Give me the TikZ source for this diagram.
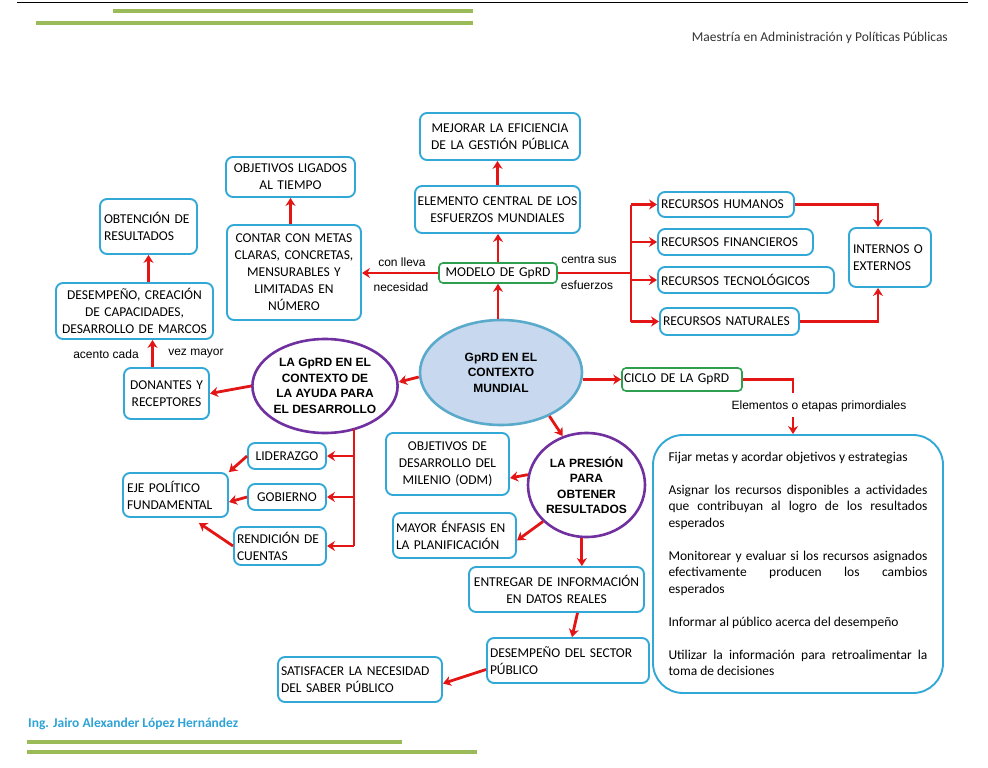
\documentclass[tikz,border=0pt]{standalone}
\usepackage{fontspec}
\setmainfont{Carlito}
\newfontfamily\arialf{Liberation Sans}
\usetikzlibrary{shapes.geometric,arrows.meta,calc}
\definecolor{boxblue}{HTML}{31A8D5}
\definecolor{arrred}{HTML}{E31515}
\definecolor{purp}{HTML}{7030A0}
\definecolor{gbox}{HTML}{2E9E4F}
\definecolor{barg}{HTML}{9BBB59}
\definecolor{ellfill}{HTML}{C8D9EF}
\definecolor{ellline}{HTML}{5AAACB}
\definecolor{footblue}{HTML}{2EA3D6}
\begin{document}
\begin{tikzpicture}[x=1pt,y=-1pt,
  box/.style={draw=boxblue, line width=1.9pt, rounded corners=7pt, inner sep=0pt, align=center, fill=white,
    font=\fontsize{13.5}{17}\selectfont},
  lbox/.style={box, align=left},
  gbx/.style={draw=gbox, line width=1.6pt, rounded corners=4pt, inner sep=0pt, align=left, fill=white,
    font=\fontsize{13.5}{17}\selectfont},
  pell/.style={ellipse, draw=purp, line width=2.6pt, inner sep=0pt, align=center, fill=white,
    font=\arialf\bfseries\fontsize{12}{15.5}\selectfont},
  lab/.style={font=\arialf\fontsize{12}{14}\selectfont, inner sep=0pt},
  redline/.style={draw=arrred, line width=2.8pt},
  arr/.style={redline, -{Stealth[length=8pt,width=10pt,inset=2.5pt]}},
  gbar/.style={draw=barg, line width=4.5pt}
]
\useasboundingbox (0,0) rectangle (988,768);
% header / footer
\draw[line width=1pt] (17,2.5) -- (968,2.5);
\draw[gbar] (113,11) -- (473,11);
\draw[gbar] (36,23) -- (473,23);
\node[font=\fontsize{13.5}{16}\selectfont, text=black!80, anchor=east, inner sep=0pt] (mae) at (948,38) {Maestría en Administración y Políticas Públicas};
\node[font=\bfseries\fontsize{13.5}{16}\selectfont, text=footblue, anchor=west, inner sep=0pt] (ing) at (28,724) {Ing. Jairo Alexander López Hernández};
\draw[gbar] (27,742) -- (402,742);
\draw[gbar] (27,752) -- (477,752);

% nodes
\node[box, minimum width=160, minimum height=47, text width=155] (mej) at (500,136.5) {MEJORAR LA EFICIENCIA\\DE LA GESTIÓN PÚBLICA};
\node[box, minimum width=165, minimum height=47, text width=160] (ele) at (497.5,209.5) {ELEMENTO CENTRAL DE LOS\\ESFUERZOS MUNDIALES};
\node[gbx, minimum width=118, minimum height=20, align=center, text width=116] (mod) at (498,273) {MODELO DE GpRD};
\node[box, minimum width=129, minimum height=40, text width=125] (obj) at (290.5,177) {OBJETIVOS LIGADOS\\AL TIEMPO};
\node[box, minimum width=134, minimum height=95, text width=130] (con) at (294,272.5) {CONTAR CON METAS\\CLARAS, CONCRETAS,\\MENSURABLES Y\\LIMITADAS EN\\NÚMERO};
\node[lbox, minimum width=97, minimum height=55, text width=89] (obt) at (148.5,226.5) {OBTENCIÓN DE\\RESULTADOS};
\node[box, minimum width=157, minimum height=56, text width=153] (des) at (134.5,311) {DESEMPEÑO, CREACIÓN\\DE CAPACIDADES,\\DESARROLLO DE MARCOS};
\node[box, minimum width=85, minimum height=51, text width=81] (don) at (166.5,393.5) {DONANTES Y\\RECEPTORES};
\node[pell, minimum width=144, minimum height=94] (ctx) at (325,386) {LA GpRD EN EL\\CONTEXTO DE\\LA AYUDA PARA\\EL DESARROLLO};
\node[box, minimum width=78, minimum height=26, text width=74] (lid) at (287,456) {LIDERAZGO};
\node[lbox, minimum width=105, minimum height=44, text width=97] (eje) at (175.5,495) {EJE POLÍTICO\\FUNDAMENTAL};
\node[box, minimum width=78, minimum height=26, text width=74] (gob) at (287,497) {GOBIERNO};
\node[lbox, minimum width=92, minimum height=38, text width=86] (ren) at (280,546) {RENDICIÓN DE\\CUENTAS};
\node[ellipse, draw=ellline, line width=2.6pt, fill=ellfill, inner sep=0pt, align=center,
  font=\arialf\bfseries\fontsize{12}{15.5}\selectfont, minimum width=162, minimum height=105] (gm) at (501,372.5) {GpRD EN EL\\CONTEXTO\\MUNDIAL};
\node[lbox, minimum width=136, minimum height=25, text width=130] (rh) at (726,204.5) {RECURSOS HUMANOS};
\node[lbox, minimum width=155, minimum height=26, text width=149] (rf) at (735.5,242) {RECURSOS FINANCIEROS};
\node[lbox, minimum width=176, minimum height=26, text width=170] (rt) at (746,280) {RECURSOS TECNOLÓGICOS};
\node[lbox, minimum width=139, minimum height=27, text width=133] (rn) at (729.5,321.5) {RECURSOS NATURALES};
\node[lbox, minimum width=82, minimum height=59, text width=74] (ie) at (890,257.5) {INTERNOS O\\EXTERNOS};
\node[gbx, minimum width=120, minimum height=23, text width=116] (cic) at (682,379.5) {CICLO DE LA GpRD};
\node[draw=boxblue, line width=1.9pt, rounded corners=30pt, inner sep=0pt, minimum width=290, minimum height=258, fill=white] (big) at (798,564) {%
\begin{minipage}{259pt}\fontsize{13.5}{16.5}\selectfont\setlength\parindent{0pt}\setlength\parskip{16.5pt}\hyphenpenalty=10000 \exhyphenpenalty=10000
Fijar metas y acordar objetivos y estrategias\par
Asignar los recursos disponibles a actividades que contribuyan al logro de los resultados esperados\par
Monitorear y evaluar si los recursos asignados efectivamente producen los cambios\linebreak esperados\par
Informar al público acerca del desempeño\par
Utilizar la información para retroalimentar la\linebreak toma de decisiones
\end{minipage}};
\node[pell, minimum width=117, minimum height=104] (pre) at (586.5,485) {LA PRESIÓN\\PARA\\OBTENER\\RESULTADOS};
\node[box, minimum width=123, minimum height=62, text width=119] (odm) at (447.5,464) {OBJETIVOS DE\\DESARROLLO DEL\\MILENIO (ODM)};
\node[lbox, minimum width=123, minimum height=45, text width=117] (may) at (454.5,535.5) {MAYOR ÉNFASIS EN\\LA PLANIFICACIÓN};
\node[box, minimum width=175, minimum height=45, text width=171] (ent) at (556.5,589.5) {ENTREGAR DE INFORMACIÓN\\EN DATOS REALES};
\node[lbox, minimum width=162, minimum height=45, text width=156] (dsp) at (568,660.5) {DESEMPEÑO DEL SECTOR\\PÚBLICO};
\node[lbox, minimum width=164, minimum height=45, text width=158] (sat) at (360,679.5) {SATISFACER LA NECESIDAD\\DEL SABER PÚBLICO};

% labels
\node[lab] (l1) at (402,262) {con lleva};
\node[lab] (l2) at (401,287) {necesidad};
\node[lab] (l3) at (589,260) {centra sus};
\node[lab] (l4) at (587,285) {esfuerzos};
\node[lab] (l5) at (106,354) {acento cada};
\node[lab] (l6) at (196,354) {vez mayor};
\node[lab] (l7) at (819,406) {Elementos o etapas primordiales};

% connectors: top column
\draw[arr] (mod.south |- gm.north) -- (mod.south);
\draw[arr] (mod.north) -- (mod.north |- ele.south);
\draw[arr] (ele.north) -- (ele.north |- mej.south);
\draw[arr] (mod.west) -- (mod.west -| con.east);
\draw[arr] (obj.south |- con.north) -- (obj.south);
\draw[arr] (obt.south |- des.north) -- (obt.south);
\coordinate (dx) at ([xshift=-14pt]don.north);
\draw[arr] (dx) -- (dx |- des.south);
\draw[arr] (ctx.west) -- (don.east);
\draw[arr] ([yshift=-4.5pt]gm.west) -- ([yshift=4pt]ctx.east);

% GpRD context trunk
\coordinate (t1) at (354,429);
\draw[redline] (t1) -- (t1 |- ren.east);
\draw[arr] (t1 |- lid.east) -- (lid.east);
\draw[arr] (t1 |- gob.east) -- (gob.east);
\draw[arr] (t1 |- ren.east) -- (ren.east);
\draw[arr] (lid.west) -- (eje.north east);
\draw[arr] (gob.west) -- ([yshift=-7pt]eje.east);
\draw[arr] (ren.west) -- ([xshift=-30pt,yshift=-5pt]eje.south east);

% resources
\coordinate (br) at (631,273);
\draw[redline] (mod.east) -- (br);
\draw[redline] (br |- rh.west) -- (br |- rn.west);
\draw[arr] (br |- rh.west) -- (rh.west);
\draw[arr] (br |- rf.west) -- (rf.west);
\draw[arr] (br |- rt.west) -- (rt.west);
\draw[arr] (br |- rn.west) -- (rn.west);
\draw[arr] (rh.east) -| ([xshift=-12pt]ie.north);
\draw[arr] (rn.east) -| ([xshift=-12pt]ie.south);

% cycle
\draw[arr] ([yshift=-7pt]gm.east) -- (cic.west);
\coordinate (c1) at (793,393);
\coordinate (c2) at (793,417);
\draw[redline] (cic.east) -| (c1);
\draw[arr] (c2) -- (c2 |- big.north);

% pressure
\draw[arr] (gm.-42) -- (pre.116);
\draw[arr] (pre.170) -- ([yshift=-14pt]odm.east);
\draw[arr] (pre.220) -- ([yshift=-5pt]may.east);
\draw[arr] (pre.265) -- (pre.265 |- ent.north);
\draw[arr] ([xshift=21pt]ent.south) -- ([xshift=4pt]dsp.north);
\draw[arr] ([yshift=-9pt]dsp.west) -- ([yshift=-4pt]sat.east);
\end{tikzpicture}
\end{document}
